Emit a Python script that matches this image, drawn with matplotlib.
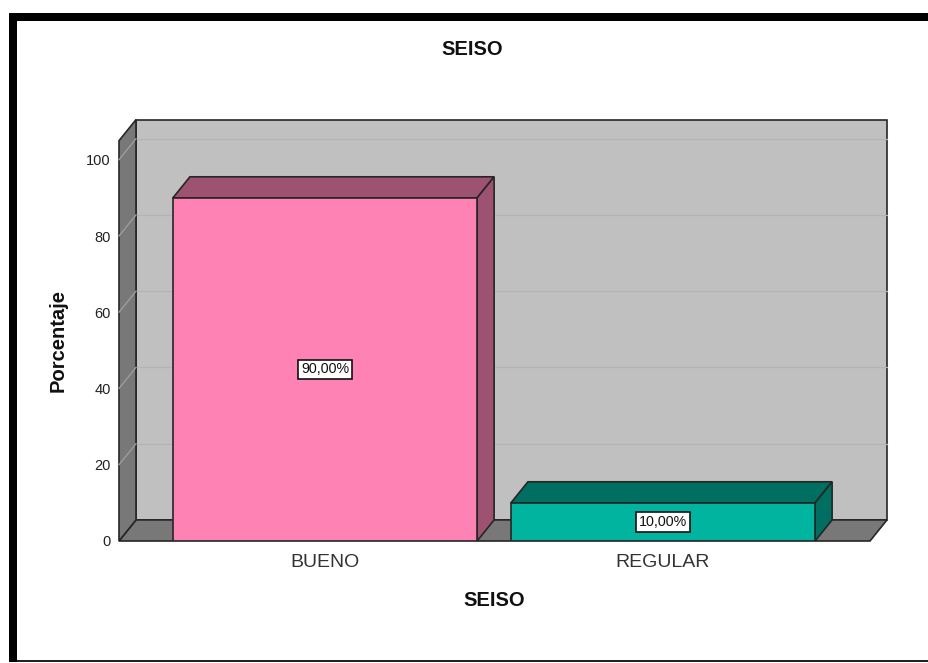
import matplotlib
matplotlib.use("Agg")
import matplotlib.pyplot as plt
from matplotlib.patches import Polygon, Rectangle
from matplotlib.lines import Line2D

# ---- data ----
categories = ["BUENO", "REGULAR"]
values = [90.0, 10.0]
yticks = [0, 20, 40, 60, 80, 100]
title = "SEISO"
xlabel = "SEISO"
ylabel = "Porcentaje"

# ---- style ----
front_colors = ["#FF82B4", "#00B4A0"]
dark_colors = ["#9C5270", "#006E60"]
wall_light = "#C0C0C0"
wall_dark = "#787878"
edge = "#262626"
FONT = ["Liberation Sans", "DejaVu Sans"]
plt.rcParams["font.family"] = FONT

W, H = 929, 663
fig = plt.figure(figsize=(W / 100, H / 100), dpi=100)
fig.patch.set_facecolor("white")

# front plane of the plot box (pixels)
left_px, right_px, y0_px, ytop_px = 119, 870, 541, 140.7
ax = fig.add_axes([left_px / W, (H - y0_px) / H,
                   (right_px - left_px) / W, (y0_px - ytop_px) / H])
ax.set_facecolor("none")
for s in ax.spines.values():
    s.set_visible(False)

XMIN, XMAX = -0.6095, 1.6124
YMAX = 105
ax.set_xlim(XMIN, XMAX)
ax.set_ylim(0, YMAX)
DX, DY = 0.0503, 5.53   # depth offset in data units
BW = 0.9

# back wall
ax.add_patch(Rectangle((XMIN + DX, DY), XMAX - XMIN, YMAX, facecolor=wall_light,
                       edgecolor=edge, lw=1.2, zorder=1, clip_on=False))
# floor
ax.add_patch(Polygon([(XMIN, 0), (XMAX, 0), (XMAX + DX, DY), (XMIN + DX, DY)],
                     closed=True, facecolor=wall_dark, edgecolor=edge, lw=1.2,
                     zorder=2, clip_on=False))
# left wall
ax.add_patch(Polygon([(XMIN, 0), (XMIN, YMAX), (XMIN + DX, YMAX + DY), (XMIN + DX, DY)],
                     closed=True, facecolor=wall_dark, edgecolor=edge, lw=1.2,
                     zorder=2, clip_on=False))
# grid lines
for v in yticks[1:]:
    ax.add_line(Line2D([XMIN + DX, XMAX + DX], [v + DY, v + DY], color="#B4B4B4",
                       lw=0.9, zorder=1.5, clip_on=False))
    ax.add_line(Line2D([XMIN, XMIN + DX], [v, v + DY], color="#A0A0A0",
                       lw=0.9, zorder=2.5, clip_on=False))

# bars
xs = list(range(len(categories)))
ax.bar(xs, values, width=BW, color=front_colors, edgecolor=edge, lw=1.2, zorder=5)
for x, v, dc in zip(xs, values, dark_colors):
    l, r = x - BW / 2, x + BW / 2
    ax.add_patch(Polygon([(l, v), (r, v), (r + DX, v + DY), (l + DX, v + DY)],
                         closed=True, facecolor=dc, edgecolor=edge, lw=1.2,
                         zorder=4, clip_on=False))
    ax.add_patch(Polygon([(r, 0), (r, v), (r + DX, v + DY), (r + DX, DY)],
                         closed=True, facecolor=dc, edgecolor=edge, lw=1.2,
                         zorder=4, clip_on=False))
    ax.text(x, v / 2, f"{v:.2f}%".replace(".", ","), ha="center", va="center",
            fontsize=10.3, color="#111111", zorder=6,
            bbox=dict(boxstyle="square,pad=0.2", facecolor="white",
                      edgecolor="#111111", lw=1.2))

ax.set_yticks(yticks)
ax.set_yticklabels([str(t) for t in yticks], fontsize=10.5, color="#222222")
ax.set_xticks(xs)
ax.set_xticklabels(categories, fontsize=14, color="#333333")
ax.tick_params(axis="y", length=0, pad=5.8)
ax.tick_params(axis="x", length=0, pad=9.5)

ax.set_xlabel(xlabel, fontsize=14.5, fontweight="bold", color="#111111")
ax.xaxis.set_label_coords(0.5, (y0_px - 600.5) / (y0_px - ytop_px))
ax.xaxis.label.set_va("center")
ax.set_ylabel(ylabel, fontsize=14.5, fontweight="bold", color="#111111")
ax.yaxis.set_label_coords((58.5 - left_px) / (right_px - left_px), 0.5)
ax.yaxis.label.set_va("center")

fig.text(472 / W, 1 - 49.5 / H, title, ha="center", va="center",
         fontsize=14.5, fontweight="bold", color="#111111")

# frame border
fig.add_artist(Rectangle((9 / W, 1 - 21 / H), 1 - 9 / W, 8 / H,
                         transform=fig.transFigure, facecolor="black", edgecolor="none"))
fig.add_artist(Rectangle((9 / W, 1 - 661.5 / H), 8 / W, (661.5 - 13) / H,
                         transform=fig.transFigure, facecolor="black", edgecolor="none"))
fig.add_artist(Rectangle((17 / W, 1 - 661.5 / H), 1 - 17 / W, 2 / H,
                         transform=fig.transFigure, facecolor="#222222", edgecolor="none"))

fig.savefig("out.png", dpi=100)
